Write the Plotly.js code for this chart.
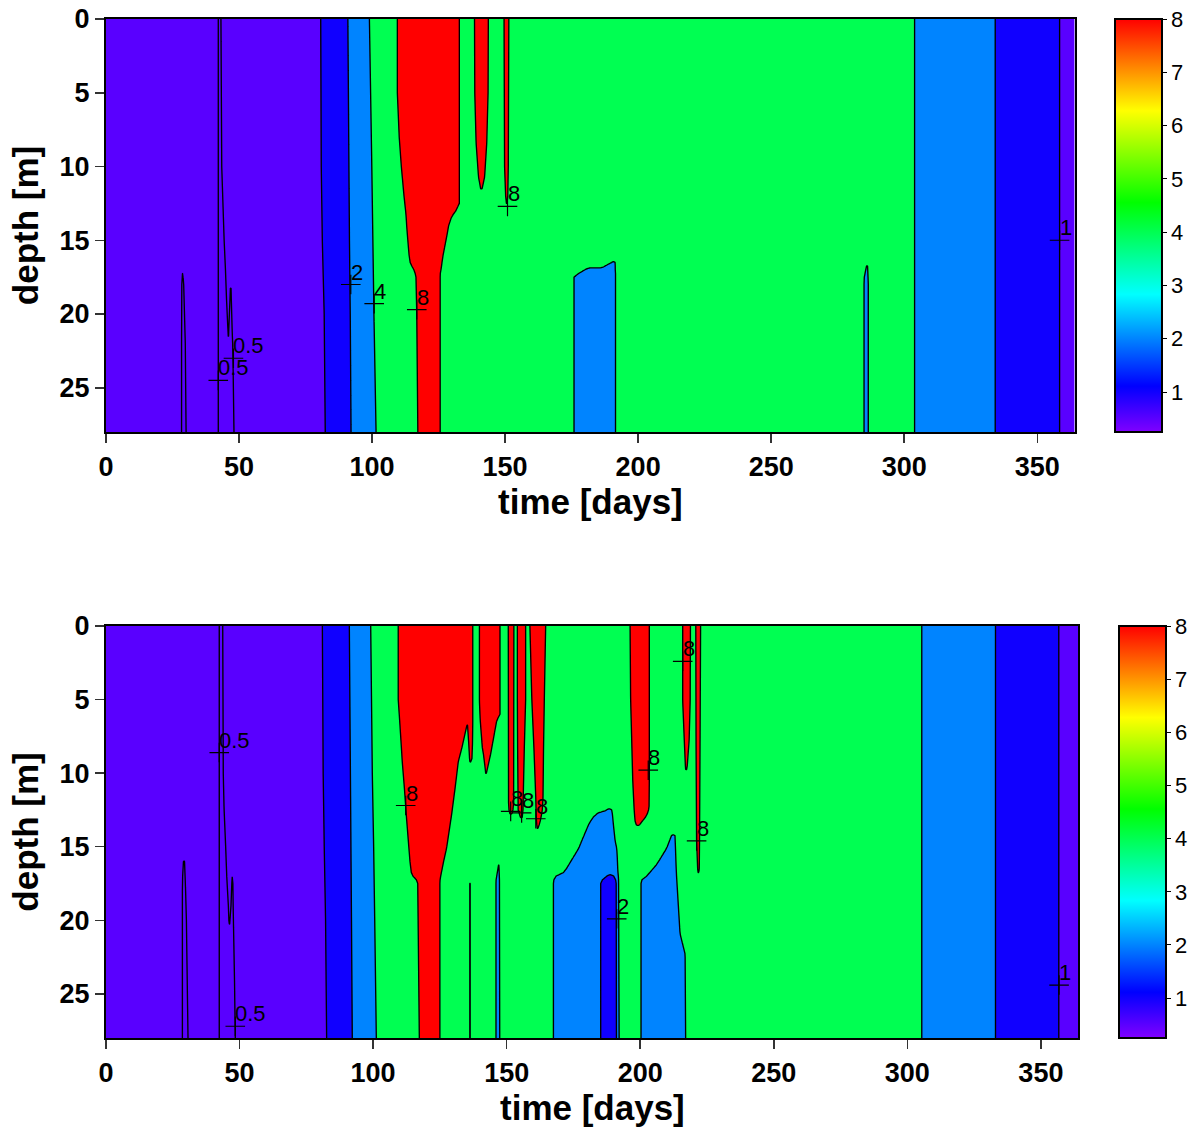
<!DOCTYPE html>
<html>
<head>
<meta charset="utf-8">
<script src="https://cdn.plot.ly/plotly-3.0.1.min.js"></script>
<style>
html,body{margin:0;padding:0;background:#fff;}
#chart{width:1190px;height:1128px;}
</style>
</head>
<body>
<div id="chart"></div>
<script>
// ---------------- DATA ----------------
// contour levels of the field (log-spaced)
const contourLevels = [0.5, 1, 2, 4, 8];
// representative value of each filled class: p <0.5, q 0.5-1, b 1-2, l 2-4, g 4-8, r >8
const classCodes  = ['p', 'q', 'b', 'l', 'g', 'r'];
const classValues = [0.35, 0.71, 1.41, 2.83, 5.66, 11.3];
const timeRange  = [0, 364];
const depthRange = [0, 28];
const xTickVals = [0, 50, 100, 150, 200, 250, 300, 350];
const yTickVals = [0, 5, 10, 15, 20, 25];
const colorbarTicks = [1, 2, 3, 4, 5, 6, 7, 8];
const colorbarRange = [0.25, 8];

// ---- upper panel: vertical class boundaries (time at the given depths) ----
const upperEdgeDepth = [0, 10, 15, 20, 28];
const upperEdgeClass = ['b', 'l', 'g', 'l', 'b', 'q'];
const upperEdgeB1 = [80.7, 80.9, 81.3, 82.0, 82.4];
const upperEdgeL1 = [90.9, 91.3, 91.5, 91.8, 92.1];
const upperEdgeG1 = [99.0, 99.9, 100.3, 100.7, 101.5];
const upperEdgeL2 = [303.9, 303.9, 303.9, 303.9, 303.9];
const upperEdgeB2 = [334.2, 334.2, 334.2, 334.2, 334.2];
const upperEdgeQ2 = [358.4, 358.4, 358.4, 358.4, 358.4];
// ---- upper panel: closed regions [depth, time left, time right] ----
const upperThinA = [[0,42.2,43.2],[10,42.2,43.5],[15,42.2,44.4],[17,42.2,44.9],[19,42.2,45.3],[21,42.2,45.8],[21.7,42.2,46.0],[22,42.2,47.6],[24,42.2,47.8],[28,42.2,48.1]];
const upperThinSpike = [[17.5,46.9,46.9],[19,46.6,47.1],[21,46.15,47.4],[22,46.0,47.6]];
const upperThinS = [[17.1,28.8,28.8],[18,28.5,29.2],[20,28.45,29.5],[22,28.4,29.8],[24,28.4,29.9],[28,28.4,30.1]];
const upperRedMain = [[0,109.5,132.8],[5,109.5,132.8],[8,110.2,132.8],[10,111.0,132.8],[12,112.0,132.8],[12.5,112.3,132.8],[13,112.6,131.5],[13.4,112.8,129.9],[14,113.0,128.8],[14.7,113.3,128.1],[16,113.9,126.7],[16.6,114.4,126.2],[16.9,115.5,126.0],[17.3,116.3,125.6],[17.5,116.5,125.6],[20,116.8,125.6],[28,117.2,125.6]];
const upperRedFinger = [[0,138.5,143.7],[5,138.6,143.6],[8.4,139.1,143.1],[10.7,140.0,142.3],[11.3,140.6,141.6],[11.7,141.0,141.1]];
const upperRedSpike = [[0,149.6,151.4],[10,149.8,151.2],[12,150.2,151.0],[12.6,150.55,150.65]];
const upperBlueBox = [[16.4,191.1,191.3],[16.8,187.0,191.4],[16.9,184.0,191.4],[17.0,180.0,191.4],[17.2,178.0,191.5],[17.5,175.9,191.5],[28,175.9,191.5]];
const upperBlueSliver = [[16.6,286.0,286.2],[17.5,285.0,286.4],[18,284.9,286.5],[28,284.9,286.5]];
// ---- upper panel: contour labels ----
const upperLabelTime  = [92.0, 100.8, 42.2, 47.9, 116.8, 150.9, 358.4];
const upperLabelDepth = [18.0, 19.3, 24.5, 23.0, 19.7, 12.7, 15.0];
const upperLabelText  = ['2', '4', '0.5', '0.5', '8', '8', '1'];

// ---- lower panel: vertical class boundaries ----
const lowerEdgeDepth = [0, 10, 15, 20, 28];
const lowerEdgeClass = ['b', 'l', 'g', 'l', 'b', 'q'];
const lowerEdgeB1 = [81.0, 81.3, 81.7, 82.2, 82.6];
const lowerEdgeL1 = [91.1, 91.5, 91.7, 91.9, 92.2];
const lowerEdgeG1 = [99.1, 99.7, 100.2, 100.6, 101.2];
const lowerEdgeL2 = [305.4, 305.4, 305.4, 305.4, 305.4];
const lowerEdgeB2 = [333.0, 333.0, 333.0, 333.0, 333.0];
const lowerEdgeQ2 = [356.7, 356.7, 356.7, 356.7, 356.7];
// ---- lower panel: closed regions ----
const lowerThinA = [[0,42.4,43.7],[10,42.4,43.9],[12.4,42.4,44.2],[15,42.4,44.8],[17,42.4,45.2],[19,42.4,45.8],[20,42.4,46.0],[20.5,42.4,46.2],[21,42.4,47.8],[24,42.4,48.1],[28,42.4,48.4]];
const lowerThinSpike = [[16.9,47.3,47.3],[17.5,47.1,47.5],[19,46.8,47.6],[20,46.4,47.7],[20.5,46.2,47.75],[21,46.2,47.8]];
const lowerThinS = [[15.85,29.2,29.2],[16,29.0,29.4],[17,28.7,29.6],[18,28.6,29.8],[20,28.6,30.1],[24,28.6,30.4],[28,28.6,30.7]];
const lowerRedMain = [[0,109.4,137.3],[5,109.4,137.3],[6.6,110.0,135.3],[8.3,110.6,133.2],[9.2,110.9,131.9],[11,111.7,130.7],[12.8,112.4,129.4],[15.1,113.4,127.5],[16,113.8,126.4],[16.9,114.4,125.4],[17.2,116.0,125.1],[17.4,116.7,125.0],[28,117.3,125.0]];
const lowerRedSpike = [[0,135.3,137.3],[6.6,135.3,137.3],[8,135.8,137.2],[9,136.1,137.0],[9.3,136.3,136.4]];
const lowerRedFinger = [[0,139.8,147.5],[5.1,139.8,147.5],[6.0,140.0,147.5],[6.4,140.1,146.3],[8.3,140.9,144.4],[8.7,141.3,144.0],[9.6,141.9,142.9],[10.1,142.2,142.3]];
const lowerRedA = [[0,150.6,152.7],[12,150.7,152.6],[12.6,150.9,152.3],[12.9,151.5,151.6]];
const lowerRedB = [[0,154.0,157.1],[5,154.0,157.1],[8.3,154.1,156.6],[12.5,154.3,156.1],[13.2,155.5,155.7]];
const lowerRedC = [[0,158.7,164.6],[4.9,159.4,164.1],[8.3,160.2,163.8],[11.7,160.9,163.6],[12.6,161.0,163.3],[13.4,161.2,162.4],[13.8,161.5,161.6]];
const lowerRedD = [[0,196.2,203.4],[4.9,196.4,203.4],[10.5,197.2,203.4],[12.4,197.7,203.3],[12.9,197.9,202.4],[13.3,198.1,200.6],[13.65,198.8,199.2]];
const lowerRedE = [[0,215.9,218.8],[5.1,215.9,218.7],[7.8,216.5,218.3],[9.5,216.9,217.6],[9.95,217.1,217.2]];
const lowerRedF = [[0,220.8,222.6],[8,220.9,222.4],[14.6,221.1,222.2],[16.5,221.5,222.1],[16.85,221.75,221.85]];
const lowerBlueLine = [[17.4,136.2,136.4],[28,136.2,136.4]];
const lowerBlueSliver = [[16.2,147.0,147.1],[17.3,146.0,147.3],[28,146.0,147.4]];
const lowerBlueA = [[12.4,188.6,189.2],[12.6,186.2,189.4],[12.8,183.1,189.6],[13.4,180.9,189.9],[14.6,178.1,190.6],[15.1,177.0,191.2],[15.7,175.0,191.4],[16.6,172.0,191.6],[16.8,171.0,191.7],[17.0,168.5,191.8],[17.3,167.5,191.9],[28,167.5,192.1]];
const lowerDarkA = [[16.95,188.0,189.8],[17.1,186.5,190.6],[17.4,185.2,191.0],[28,185.2,191.1]];
const lowerBlueB = [[14.1,212.1,212.5],[14.2,211.8,213.0],[15.1,209.9,213.2],[16.2,206.2,213.4],[17.0,202.4,213.6],[17.3,200.3,213.7],[20.9,200.3,214.9],[22.3,200.3,216.8],[28,200.3,217.0]];
// ---- lower panel: contour labels ----
const lowerLabelTime  = [42.4, 48.4, 112.2, 151.5, 155.6, 160.9, 191.2, 203.0, 215.9, 221.1, 356.8];
const lowerLabelDepth = [8.6, 27.2, 12.2, 12.6, 12.7, 13.1, 19.9, 9.8, 2.4, 14.6, 24.4];
const lowerLabelText  = ['0.5', '0.5', '8', '8', '8', '8', '2', '8', '8', '8', '1'];

// ---------------- build the gridded field ----------------
const STEP_T = 0.25, STEP_D = 0.25, RAMP = 2.0;
const gridTime = [];
for (let i = 0; i <= Math.round((timeRange[1] - timeRange[0]) / STEP_T); i++) gridTime.push(timeRange[0] + i * STEP_T);
const gridDepth = [];
for (let i = 0; i <= Math.round((depthRange[1] - depthRange[0]) / STEP_D); i++) gridDepth.push(depthRange[0] + i * STEP_D);
const logLevels = contourLevels.map(v => Math.log2(v));

function logOf(code) { return Math.log2(classValues[classCodes.indexOf(code)]); }
function lerp(ds, vs, d) {
  if (d <= ds[0]) return vs[0];
  for (let k = 0; k < ds.length - 1; k++) {
    if (d <= ds[k + 1]) { const f = (d - ds[k]) / (ds[k + 1] - ds[k]); return vs[k] + f * (vs[k + 1] - vs[k]); }
  }
  return vs[vs.length - 1];
}
function paintInterval(list, a, b, c) {
  if (!(b > a)) return list;
  const out = [];
  list.forEach(iv => {
    if (iv.e <= a || iv.s >= b) { out.push(iv); return; }
    if (iv.s < a) out.push({ s: iv.s, e: a, c: iv.c });
    if (iv.e > b) out.push({ s: b, e: iv.e, c: iv.c });
  });
  out.push({ s: a, e: b, c: c });
  out.sort((p, q) => p.s - q.s);
  const m = [];
  out.forEach(iv => {
    if (iv.e - iv.s <= 0) return;
    const last = m[m.length - 1];
    if (last && last.c === iv.c) last.e = iv.e; else m.push({ s: iv.s, e: iv.e, c: iv.c });
  });
  return m;
}
function buildField(baseCode, edgeDepth, edgeClass, edgeTimes, patches) {
  return gridDepth.map(d => {
    let row = [{ s: timeRange[0], e: timeRange[1], c: baseCode }];
    edgeTimes.forEach((ts, e) => { row = paintInterval(row, lerp(edgeDepth, ts, d), timeRange[1], edgeClass[e]); });
    patches.forEach(([code, pts]) => {
      const ds = pts.map(p => p[0]);
      if (d < ds[0] - 1e-9 || d > ds[ds.length - 1] + 1e-9) return;
      row = paintInterval(row, lerp(ds, pts.map(p => p[1]), d), lerp(ds, pts.map(p => p[2]), d), code);
    });
    // value at each grid time: class value, ramped towards the neighbouring level near a boundary
    let k = 0;
    return gridTime.map(t => {
      while (k < row.length - 1 && t >= row[k].e) k++;
      const iv = row[k], vc = logOf(iv.c);
      const dl = k > 0 ? t - iv.s : Infinity, dr = k < row.length - 1 ? iv.e - t : Infinity;
      if (!isFinite(dl) && !isFinite(dr)) return vc;
      const useLeft = dl <= dr, dist = useLeft ? dl : dr;
      const vn = logOf((useLeft ? row[k - 1] : row[k + 1]).c);
      const dir = vn > vc ? 1 : -1;
      const lb = dir > 0 ? logLevels.find(L => L > vc) : logLevels.slice().reverse().find(L => L < vc);
      const f = Math.min(1, Math.max(dist, 1e-3) / RAMP);
      return lb + (vc - lb) * f;
    });
  });
}

const upperZ = buildField('q', upperEdgeDepth, upperEdgeClass,
  [upperEdgeB1, upperEdgeL1, upperEdgeG1, upperEdgeL2, upperEdgeB2, upperEdgeQ2],
  [['p', upperThinA], ['p', upperThinSpike], ['p', upperThinS],
   ['r', upperRedMain], ['r', upperRedFinger], ['r', upperRedSpike],
   ['l', upperBlueBox], ['l', upperBlueSliver]]);
const lowerZ = buildField('q', lowerEdgeDepth, lowerEdgeClass,
  [lowerEdgeB1, lowerEdgeL1, lowerEdgeG1, lowerEdgeL2, lowerEdgeB2, lowerEdgeQ2],
  [['p', lowerThinA], ['p', lowerThinSpike], ['p', lowerThinS],
   ['r', lowerRedMain], ['r', lowerRedSpike], ['r', lowerRedFinger], ['r', lowerRedA], ['r', lowerRedB], ['r', lowerRedC],
   ['r', lowerRedD], ['r', lowerRedE], ['r', lowerRedF],
   ['l', lowerBlueLine], ['l', lowerBlueSliver], ['l', lowerBlueA], ['b', lowerDarkA], ['l', lowerBlueB]]);

// ---------------- styling ----------------
const FONT = 'Liberation Sans, Arial, Helvetica, sans-serif';
// fill colours of the bands (colour of the lower level on the hue colormap)
const fillScale = [[0, '#5900ff'], [0.2, '#5900ff'], [0.4, '#1000ff'], [0.6, '#0084ff'], [0.8, '#00ff52'], [1, '#ff0000']];
const barScale = [[0, '#8000ff'], [30/270, '#0000ff'], [90/270, '#00ffff'], [150/270, '#00ff00'], [210/270, '#ffff00'], [1, '#ff0000']];

function contourTrace(z, xa, ya) {
  return {
    type: 'contour', x: gridTime, y: gridDepth, z: z, xaxis: xa, yaxis: ya,
    autocontour: false,
    contours: { start: logLevels[0], end: logLevels[logLevels.length - 1], size: 1, coloring: 'fill', showlines: true, showlabels: false },
    colorscale: fillScale, showscale: false,
    line: { color: '#000', width: 1.35, smoothing: 0 },
    hoverinfo: 'skip'
  };
}
function colorbarTrace(xa, ya, xPos, yPos, lenPx) {
  return {
    type: 'scatter', mode: 'markers', x: [-50, -50], y: [-50, -50], xaxis: xa, yaxis: ya,
    hoverinfo: 'skip', showlegend: false,
    marker: {
      size: 1, color: colorbarRange, cmin: colorbarRange[0], cmax: colorbarRange[1], colorscale: barScale, showscale: true,
      colorbar: {
        x: xPos, xanchor: 'left', y: yPos, yanchor: 'bottom', len: lenPx, lenmode: 'pixels',
        thickness: 47, thicknessmode: 'pixels', xpad: 0, ypad: 0,
        outlinewidth: 2, outlinecolor: '#000', tickvals: colorbarTicks, ticks: 'outside', ticklen: 4, tickcolor: '#000',
        tickfont: { family: FONT, size: 22, color: '#000' }
      }
    }
  };
}
function labelMarks(ts, ds, xa, ya) {
  return {
    type: 'scatter', mode: 'markers', x: ts, y: ds, xaxis: xa, yaxis: ya, hoverinfo: 'skip', showlegend: false,
    marker: { symbol: 'cross-thin', size: 14, color: '#000', line: { width: 1.2, color: '#000' } }
  };
}
function labelAnnotations(ts, ds, txt, xa, ya) {
  return ts.map((t, i) => ({
    xref: xa, yref: ya, x: t, y: ds[i], text: txt[i], showarrow: false,
    xanchor: 'left', yanchor: 'bottom', xshift: -1, yshift: -1, borderpad: 0,
    font: { family: FONT, size: 22, color: '#000' }
  }));
}
function xAxis(domain, anchor) {
  return {
    domain: domain, anchor: anchor, range: timeRange, tickvals: xTickVals, ticks: 'outside', ticklen: 9, tickwidth: 1.5,
    tickcolor: '#333', showline: true, mirror: true, linecolor: '#000', linewidth: 2, showgrid: false, zeroline: false,
    automargin: false, ticklabelstandoff: 1,
    tickfont: { family: FONT, size: 27, color: '#000', weight: 'bold' }
  };
}
function yAxis(domain, anchor) {
  return {
    domain: domain, anchor: anchor, range: [depthRange[1], depthRange[0]], tickvals: yTickVals, ticks: 'outside', ticklen: 9, tickwidth: 1.5,
    tickcolor: '#333', showline: true, mirror: true, linecolor: '#000', linewidth: 2, showgrid: false, zeroline: false,
    automargin: false,
    tickfont: { family: FONT, size: 27, color: '#000', weight: 'bold' },
    title: { text: 'depth [m]', standoff: 10, font: { family: FONT, size: 35, color: '#000', weight: 'bold' } }
  };
}
function xTitle(cx, cy) {
  return {
    xref: 'paper', yref: 'paper', x: cx / W, y: 1 - cy / H, xanchor: 'center', yanchor: 'middle', showarrow: false,
    text: 'time [days]', borderpad: 0, font: { family: FONT, size: 35, color: '#000', weight: 'bold' }
  };
}

const W = 1190, H = 1128;
const data = [
  contourTrace(upperZ, 'x', 'y'),
  contourTrace(lowerZ, 'x2', 'y2'),
  labelMarks(upperLabelTime, upperLabelDepth, 'x', 'y'),
  labelMarks(lowerLabelTime, lowerLabelDepth, 'x2', 'y2'),
  colorbarTrace('x', 'y', 1115 / W, (H - 432) / H, 413),
  colorbarTrace('x2', 'y2', 1118.5 / W, (H - 1038) / H, 412)
];
const layout = {
  width: W, height: H, margin: { l: 0, r: 0, t: 0, b: 0 },
  paper_bgcolor: '#fff', plot_bgcolor: '#fff', showlegend: false,
  font: { family: FONT, color: '#000' },
  xaxis: xAxis([106 / W, 1074.5 / W], 'y'),
  yaxis: yAxis([(H - 432) / H, (H - 19) / H], 'x'),
  xaxis2: xAxis([106 / W, 1078.3 / W], 'y2'),
  yaxis2: yAxis([(H - 1038) / H, (H - 626) / H], 'x2'),
  annotations: labelAnnotations(upperLabelTime, upperLabelDepth, upperLabelText, 'x', 'y')
    .concat(labelAnnotations(lowerLabelTime, lowerLabelDepth, lowerLabelText, 'x2', 'y2'))
    .concat([xTitle(590, 501), xTitle(592, 1107)])
};
Plotly.newPlot('chart', data, layout, { staticPlot: true, displayModeBar: false });
</script>
</body>
</html>
